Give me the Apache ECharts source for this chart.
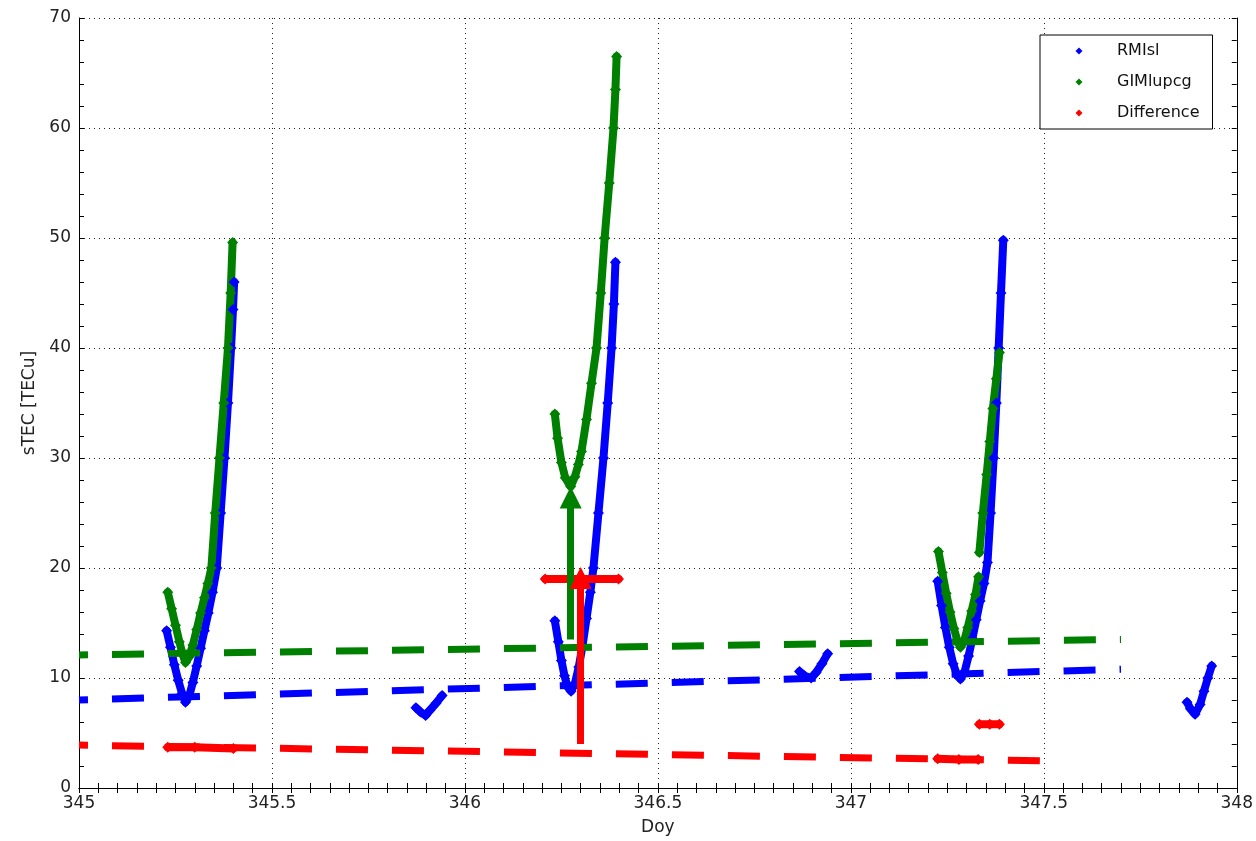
<!DOCTYPE html>
<html>
<head>
<meta charset="utf-8">
<title>sTEC RMIsl vs GIMlupcg</title>
<script src="https://cdn.jsdelivr.net/npm/echarts@6/dist/echarts.min.js"></script>
<style>
  html, body { margin: 0; padding: 0; background: #fff; }
  #chart { width: 1256px; height: 841px; }
</style>
</head>
<body>
<div id="chart"></div>
<script>
// ---- axis ticks ----
const xTicks = [345, 345.5, 346, 346.5, 347, 347.5, 348];
const yTicks = [0, 10, 20, 30, 40, 50, 60, 70];

// ---- RMIsl sTEC arcs [day, TECu] ----
const rmislArc1 = [[345.227,14.3],[345.237,12.8],[345.247,11.2],[345.257,9.8],[345.267,8.6],[345.276,7.8],[345.285,8.3],[345.295,9.6],[345.305,11.1],[345.315,12.7],[345.325,14.3],[345.335,15.9],[345.346,17.8],[345.357,20.0],[345.367,25.0],[345.377,30.0],[345.386,35.0],[345.394,40.0],[345.399,43.5],[345.402,46.0]];
const rmislArc2 = [[345.873,7.3],[345.885,6.9],[345.898,6.6],[345.910,7.1],[345.925,7.7],[345.941,8.4]];
const rmislArc3 = [[346.233,15.2],[346.242,13.3],[346.250,11.6],[346.258,10.2],[346.266,9.2],[346.275,8.8],[346.285,9.5],[346.295,11.0],[346.305,13.0],[346.315,15.4],[346.325,17.8],[346.333,20.0],[346.346,25.0],[346.359,30.0],[346.370,35.0],[346.380,40.0],[346.386,44.0],[346.390,47.8]];
const rmislArc4 = [[346.867,10.6],[346.880,10.2],[346.897,10.0],[346.910,10.5],[346.925,11.3],[346.940,12.2]];
const rmislArc5 = [[347.225,18.8],[347.235,16.6],[347.245,14.6],[347.255,12.8],[347.265,11.3],[347.275,10.3],[347.284,9.9],[347.295,10.6],[347.305,12.0],[347.315,13.6],[347.325,15.3],[347.335,17.0],[347.345,18.6],[347.354,20.5],[347.362,25.0],[347.370,30.0],[347.377,35.0],[347.383,40.0],[347.389,45.0],[347.395,49.8]];
const rmislArc6 = [[347.871,7.8],[347.880,7.2],[347.892,6.7],[347.905,7.6],[347.915,8.8],[347.925,10.0],[347.935,11.1]];

// ---- GIMlupcg sTEC arcs [day, TECu] ----
const gimArc1 = [[345.230,17.8],[345.240,16.3],[345.250,14.8],[345.260,13.3],[345.268,12.2],[345.276,11.4],[345.285,11.9],[345.295,13.0],[345.305,14.4],[345.315,15.9],[345.325,17.3],[345.334,18.6],[345.343,20.0],[345.353,25.0],[345.364,30.0],[345.375,35.0],[345.386,40.0],[345.393,45.0],[345.398,49.6]];
const gimArc2 = [[346.233,34.0],[346.240,31.8],[346.250,29.6],[346.260,28.2],[346.274,27.4],[346.285,28.3],[346.294,29.4],[346.302,30.6],[346.315,33.5],[346.328,36.8],[346.341,40.0],[346.352,45.0],[346.362,50.0],[346.374,55.0],[346.385,60.0],[346.390,63.5],[346.393,66.5]];
const gimArc3a = [[347.227,21.5],[347.237,19.6],[347.247,17.7],[347.257,16.0],[347.267,14.5],[347.276,13.4],[347.284,12.8],[347.293,13.3],[347.303,14.6],[347.313,16.1],[347.323,17.6],[347.331,19.2]];
const gimArc3b = [[347.333,21.4],[347.342,25.0],[347.352,28.5],[347.360,31.5],[347.368,34.5],[347.377,37.2],[347.385,39.6]];

// ---- Difference (GIM - RMI) [day, TECu] ----
const diffArc1 = [[345.230,3.7],[345.300,3.7],[345.400,3.6]];
const diffArc2 = [[346.208,19.0],[346.300,19.0],[346.398,19.0]];
const diffArc3a = [[347.225,2.65],[347.280,2.6],[347.330,2.6]];
const diffArc3b = [[347.333,5.8],[347.360,5.8],[347.385,5.8]];

// ---- linear trends (dashed) ----
const rmislTrend = [[345.0,8.0],[347.70,10.8]];
const gimTrend = [[345.0,12.1],[347.70,13.5]];
const diffTrend = [[345.0,3.9],[347.55,2.45]];

// ---- arrows (shaft start, head centre) ----
const gimArrow = [[346.274,13.5],[346.274,26.4]];
const diffArrow = [[346.300,4.0],[346.300,19.1]];

const BLUE = '#0000ff', GREEN = '#008000', RED = '#ff0000';
const FONT = 'DejaVu Sans, Liberation Sans, sans-serif';
const GAP = ['-', '-'];

function joinArcs(...arcs) {
  const out = [];
  arcs.forEach((a, i) => { if (i) out.push(GAP); out.push(...a); });
  return out;
}

function scatterLine(name, color, data, width) {
  return {
    name, type: 'line', data, connectNulls: false,
    symbol: 'diamond', symbolSize: width + 3, showAllSymbol: true,
    itemStyle: { color },
    lineStyle: { color, width, cap: 'round', join: 'round' },
    emphasis: { disabled: true }, silent: true
  };
}

function trendLine(color, data) {
  return {
    type: 'line', data, symbol: 'none', silent: true, z: 4,
    lineStyle: { color, width: 7, type: [32, 24], dashOffset: 23 }
  };
}

function arrow(color, pts) {
  return {
    type: 'line', data: [], silent: true, z: 6,
    markLine: {
      silent: true, animation: false,
      symbol: ['none', 'triangle'], symbolSize: 22,
      label: { show: false },
      itemStyle: { color },
      lineStyle: { color, width: 7, type: 'solid' },
      data: [[{ coord: pts[0] }, { coord: pts[1] }]]
    }
  };
}

const axisLine = { show: true, lineStyle: { color: '#000', width: 1 } };
const tick = { show: true, inside: true, length: 5, lineStyle: { color: '#000' } };

const chart = echarts.init(document.getElementById('chart'));
chart.setOption({
  backgroundColor: '#fff',
  animation: false,
  grid: { left: 79, right: 15, top: 18, bottom: 51, containLabel: false },
  legend: {
    data: ['RMIsl', 'GIMlupcg', 'Difference'],
    orient: 'vertical', left: 1040, top: 35,
    padding: [8, 13, 8, 20], itemGap: 15,
    itemWidth: 52, itemHeight: 8,
    icon: 'path://M0,0M52,8M15.5,4L19,0.5L22.5,4L19,7.5Z',
    borderColor: '#000', borderWidth: 1, backgroundColor: '#fff',
    textStyle: { fontSize: 16, fontFamily: FONT, color: '#111' },
    selectedMode: false
  },
  xAxis: [{
    type: 'value', min: xTicks[0], max: xTicks[xTicks.length - 1], interval: 0.5,
    position: 'bottom',
    name: 'Doy', nameLocation: 'middle', nameGap: 31,
    nameTextStyle: { fontSize: 17, fontFamily: FONT, color: '#222' },
    axisLine, axisTick: tick,
    minorTick: { show: true, splitNumber: 10, length: 5, lineStyle: { color: '#000' } },
    splitLine: { show: true, lineStyle: { color: '#222', width: 1, type: [1, 4] } },
    axisLabel: { fontSize: 17, fontFamily: FONT, color: '#222', margin: 7,
      formatter: v => String(v) }
  }, {
    type: 'value', min: xTicks[0], max: xTicks[xTicks.length - 1], interval: 0.5,
    position: 'top', axisLine, axisTick: tick,
    minorTick: { show: true, splitNumber: 10, length: 5, lineStyle: { color: '#000' } },
    splitLine: { show: false }, axisLabel: { show: false }
  }],
  yAxis: [{
    type: 'value', min: yTicks[0], max: yTicks[yTicks.length - 1], interval: 10,
    position: 'left',
    name: 'sTEC [TECu]', nameLocation: 'middle', nameGap: 38, nameRotate: 90,
    nameTextStyle: { fontSize: 17, fontFamily: FONT, color: '#222' },
    axisLine, axisTick: tick,
    minorTick: { show: true, splitNumber: 5, length: 5, lineStyle: { color: '#000' } },
    splitLine: { show: true, lineStyle: { color: '#222', width: 1, type: [1, 4] } },
    axisLabel: { fontSize: 17, fontFamily: FONT, color: '#222', margin: 8 }
  }, {
    type: 'value', min: yTicks[0], max: yTicks[yTicks.length - 1], interval: 10,
    position: 'right', axisLine, axisTick: tick,
    minorTick: { show: true, splitNumber: 5, length: 5, lineStyle: { color: '#000' } },
    splitLine: { show: false }, axisLabel: { show: false }
  }],
  series: [
    scatterLine('RMIsl', BLUE, joinArcs(rmislArc1, rmislArc2, rmislArc3, rmislArc4, rmislArc5, rmislArc6), 8),
    scatterLine('GIMlupcg', GREEN, joinArcs(gimArc1, gimArc2, gimArc3a, gimArc3b), 8),
    scatterLine('Difference', RED, joinArcs(diffArc1, diffArc2, diffArc3a, diffArc3b), 8),
    trendLine(RED, diffTrend),
    trendLine(BLUE, rmislTrend),
    trendLine(GREEN, gimTrend),
    arrow(GREEN, gimArrow),
    arrow(RED, diffArrow)
  ]
});
</script>
</body>
</html>
